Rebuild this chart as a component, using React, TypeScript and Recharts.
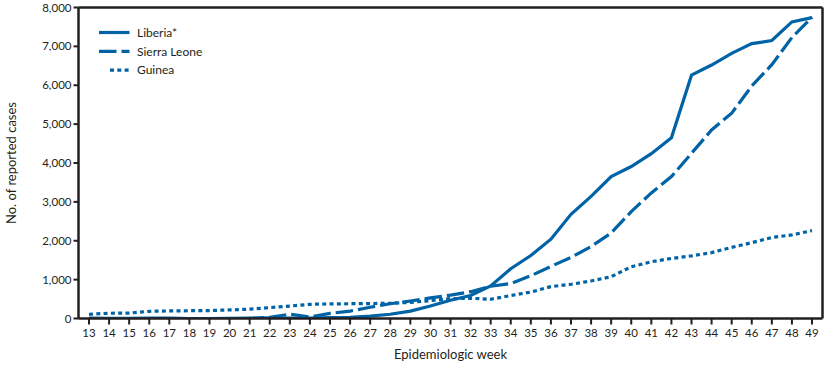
import React from 'react';
import { LineChart, Line, XAxis, YAxis, Legend, Label } from 'recharts';

const weeks = [13, 14, 15, 16, 17, 18, 19, 20, 21, 22, 23, 24, 25, 26, 27, 28, 29, 30, 31, 32, 33, 34, 35, 36, 37, 38, 39, 40, 41, 42, 43, 44, 45, 46, 47, 48, 49];
const liberia = [10, 5, 5, 10, 10, 0, 0, 5, 10, 15, 10, 10, 20, 30, 60, 110, 190, 320, 470, 590, 840, 1280, 1620, 2040, 2680, 3140, 3650, 3910, 4240, 4650, 6260, 6520, 6820, 7070, 7150, 7630, 7740];
const sierraLeone = [0, 0, 0, 0, 0, 0, 0, 0, 0, 30, 110, 40, 130, 190, 290, 380, 450, 530, 600, 690, 830, 900, 1100, 1340, 1570, 1850, 2200, 2750, 3230, 3650, 4250, 4850, 5280, 5980, 6530, 7230, 7750];
const guinea = [110, 135, 140, 185, 195, 200, 205, 220, 240, 280, 320, 365, 375, 380, 385, 390, 415, 460, 510, 520, 495, 590, 680, 820, 880, 965, 1075, 1330, 1460, 1545, 1610, 1695, 1830, 1950, 2085, 2150, 2260];
const yTicks = [0, 1000, 2000, 3000, 4000, 5000, 6000, 7000, 8000];

const data = weeks.map((w, i) => ({
  week: w,
  liberia: liberia[i],
  sierraLeone: sierraLeone[i],
  guinea: guinea[i],
}));

const BLUE = '#0063a6';
const INK = '#231f20';
const FONT = 'Lato, "Open Sans", sans-serif';

const series = [
  { key: 'liberia', name: 'Liberia*', dash: undefined as string | undefined, legendStart: 0 },
  { key: 'sierraLeone', name: 'Sierra Leone', dash: '17.5 5', legendStart: 0 },
  { key: 'guinea', name: 'Guinea', dash: '4 3.3', legendStart: 11 },
];

const LegendContent = () => (
  <svg width={140} height={62} style={{ display: 'block' }}>
    {series.map((s, i) => {
      const y = 10.5 + i * 18.8;
      return (
        <g key={s.key}>
          <line x1={s.legendStart} x2={30.5} y1={y} y2={y} stroke={BLUE} strokeWidth={3.2} strokeDasharray={s.dash} />
          <text x={38} y={y + 4.2} fontFamily={FONT} fontSize={12} fill={INK}>{s.name}</text>
        </g>
      );
    })}
  </svg>
);

const fmt = (v: number) => v.toLocaleString('en-US');

export default function App() {
  const tickStyle = { fontFamily: FONT, fontSize: 11.5, fill: INK };
  return (
    <div style={{ position: 'absolute', left: 0, top: 0, width: 834, height: 365, background: '#fff' }}>
      <LineChart width={834} height={365} data={data} margin={{ top: 6.5, right: 10.5, left: 0, bottom: 0 }}>
        <XAxis
          dataKey="week"
          interval={0}
          height={46.5}
          padding={{ left: 10.5, right: 10.5 }}
          tickSize={6}
          tickMargin={4}
          tick={tickStyle}
          axisLine={{ stroke: INK, strokeWidth: 2.5 }}
          tickLine={{ stroke: INK, strokeWidth: 2 }}
        >
          <Label
            content={() => (
              <text x={450.5} y={359} textAnchor="middle" fontFamily={FONT} fontSize={13} fill={INK}>
                Epidemiologic week
              </text>
            )}
          />
        </XAxis>
        <XAxis
          xAxisId="top"
          orientation="top"
          dataKey="week"
          height={1}
          padding={{ left: 10.5, right: 10.5 }}
          tick={false}
          tickLine={false}
          axisLine={{ stroke: INK, strokeWidth: 2.5 }}
        />
        <YAxis
          domain={[0, 8000]}
          ticks={yTicks}
          tickFormatter={fmt}
          width={78.5}
          tickSize={5}
          tickMargin={2}
          tick={tickStyle}
          axisLine={{ stroke: INK, strokeWidth: 2.5 }}
          tickLine={{ stroke: INK, strokeWidth: 2 }}
          allowDataOverflow
        >
          <Label
            content={() => (
              <text
                x={16}
                y={163}
                transform="rotate(-90, 16, 163)"
                textAnchor="middle"
                fontFamily={FONT}
                fontSize={13}
                fill={INK}
              >
                No. of reported cases
              </text>
            )}
          />
        </YAxis>
        <YAxis
          yAxisId="right"
          orientation="right"
          domain={[0, 8000]}
          width={1}
          tick={false}
          tickLine={false}
          axisLine={{ stroke: INK, strokeWidth: 2.5 }}
        />
        <Legend
          layout="vertical"
          align="center"
          verticalAlign="middle"
          content={<LegendContent />}
          wrapperStyle={{ left: 99, top: 22, width: 140, height: 62 }}
        />
        {series.map((s) => (
          <Line
            key={s.key}
            dataKey={s.key}
            name={s.name}
            type="linear"
            stroke={BLUE}
            strokeWidth={3.2}
            strokeDasharray={s.dash}
            dot={false}
            activeDot={false}
            isAnimationActive={false}
          />
        ))}
      </LineChart>
    </div>
  );
}
